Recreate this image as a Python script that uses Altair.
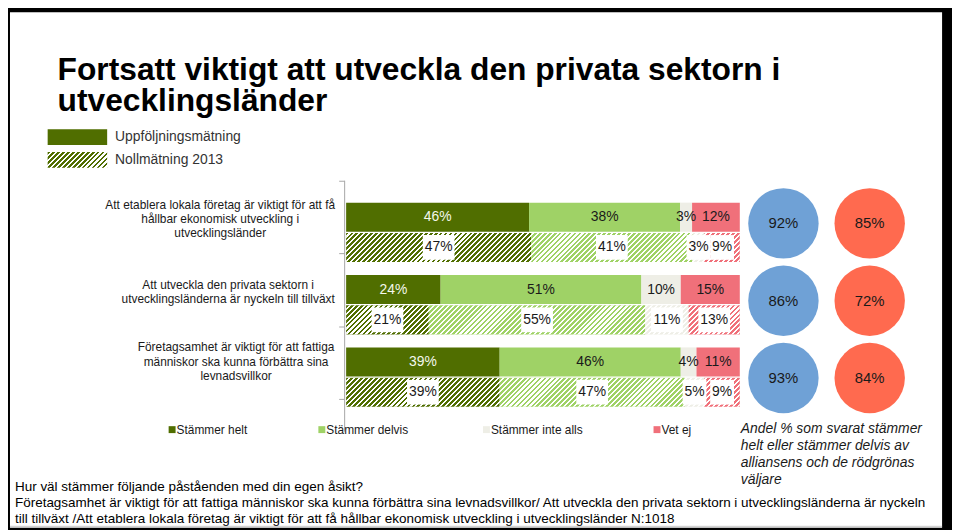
import altair as alt
import pandas as pd

# ---------------- data ----------------
statements = ["Etablera lokala företag", "Privata sektorn", "Företagsamhet"]
statement_labels = [
    "Att etablera lokala företag är viktigt för att få\nhållbar ekonomisk utveckling i\nutvecklingsländer",
    "Att utveckla den privata sektorn i\nutvecklingsländerna är nyckeln till tillväxt",
    "Företagsamhet är viktigt för att fattiga\nmänniskor ska kunna förbättra sina\nlevnadsvillkor",
]
measures = ["Uppföljningsmätning", "Nollmätning 2013"]
categories = ["Stämmer helt", "Stämmer delvis", "Stämmer inte alls", "Vet ej"]
follow_up = [[46, 38, 3, 12], [24, 51, 10, 15], [39, 46, 4, 11]]
baseline_2013 = [[47, 41, 3, 9], [21, 55, 11, 13], [39, 47, 5, 9]]
groups = ["Alliansen", "Rödgröna"]
alliansen = [92, 86, 93]
rodgrona = [85, 72, 84]

title_lines = ["Fortsatt viktigt att utveckla den privata sektorn i", "utvecklingsländer"]
note_text = "Andel % som svarat stämmer\nhelt eller stämmer delvis av\nalliansens och de rödgrönas\nväljare"
footnote_text = ("Hur väl stämmer följande påståenden med din egen åsikt?\n"
                 "Företagsamhet är viktigt för att fattiga människor ska kunna förbättra sina levnadsvillkor/ "
                 "Att utveckla den privata sektorn i utvecklingsländerna är nyckeln\n"
                 "till tillväxt /Att etablera lokala företag är viktigt för att få hållbar ekonomisk "
                 "utveckling i utvecklingsländer N:1018")

# ---------------- styles ----------------
cat_colors = ["#506E00", "#9FD266", "#EEEEE6", "#F0707A"]
group_colors = ["#6FA1D6", "#FF6A4F"]
FONT = "Liberation Sans, Arial, sans-serif"
TXT = "#1a1a1a"

rows = []
for i, s in enumerate(statements):
    for m, vals in ((measures[0], follow_up[i]), (measures[1], baseline_2013[i])):
        for k, c in enumerate(categories):
            rows.append({"statement": s, "measure": m, "category": c, "order": k, "value": vals[k]})
df = pd.DataFrame(rows)

circ_rows = []
for i, s in enumerate(statements):
    circ_rows.append({"statement": s, "group": groups[0], "value": alliansen[i]})
    circ_rows.append({"statement": s, "group": groups[1], "value": rodgrona[i]})
cdf = pd.DataFrame(circ_rows)

one = pd.DataFrame({"_": [0]})

# scales (chart pixel coordinates)
X0, X1 = 341, 738
Y0, Y1 = 187.5, 406.5
PI, PO = 0.18, 0.09
OPI = 0.04
xs = alt.Scale(domain=[0, 1], range=[X0, X1])
ys = alt.Scale(type="band", domain=statements, range=[Y0, Y1], paddingInner=PI, paddingOuter=PO)
yos = alt.Scale(type="band", domain=measures, paddingInner=OPI, paddingOuter=0)

step = (Y1 - Y0) / (len(statements) - PI + 2 * PO)
band = step * (1 - PI)
obw = band / (2 - OPI) * (1 - OPI)


def hatch(W, H, period, frac, on, off):
    L = W + H
    n = int(L / period) + 1
    stops = []
    for i in range(n):
        a = min(i * period / L, 1)
        b = min((i + frac) * period / L, 1)
        c = min((i + 1) * period / L, 1)
        stops += [{"offset": round(a, 5), "color": on}, {"offset": round(b, 5), "color": on},
                  {"offset": round(b, 5), "color": off}, {"offset": round(c, 5), "color": off}]
    r = H / W
    k = (1 + r) / (1 + r * r)
    return {"gradient": "linear", "x1": 0, "y1": 0, "x2": k, "y2": k * r, "stops": stops}


Ypos = alt.Y("statement:N", scale=ys, axis=None)
YOff = alt.YOffset("measure:N", scale=yos)

base = (alt.Chart(df)
        .transform_joinaggregate(total="sum(value)", groupby=["statement", "measure"])
        .transform_window(cum="sum(value)", sort=[alt.SortField("order")],
                          groupby=["statement", "measure"], frame=[None, 0])
        .transform_calculate(x0="(datum.cum - datum.value) / datum.total",
                             x1="datum.cum / datum.total",
                             xm="(datum.cum - datum.value / 2) / datum.total",
                             label="datum.value + '%'"))

background = alt.Chart(one).mark_rect(color="white").encode(
    x=alt.value(2), x2=alt.value(942), y=alt.value(2), y2=alt.value(522))
bottom_line = alt.Chart(one).mark_rule(color="#C8C8C8", strokeWidth=1).encode(
    x=alt.value(2), x2=alt.value(942), y=alt.value(520.5))

bars = base.mark_bar().encode(
    x=alt.X("x0:Q", scale=xs, axis=None),
    x2="x1:Q",
    y=Ypos, yOffset=YOff,
    color=alt.Color("category:N", scale=alt.Scale(domain=categories, range=cat_colors), legend=None),
)

overlay = (alt.Chart(pd.DataFrame({"statement": statements}))
           .transform_calculate(measure=f"'{measures[1]}'", a="0", b="1")
           .mark_rect(fill=hatch(X1 - X0, obw, 5, 0.55, "rgba(255,255,255,0)", "white"), strokeWidth=0)
           .encode(x=alt.X("a:Q", scale=xs, axis=None), x2="b:Q", y=Ypos, yOffset=YOff))

boxes = (base.transform_filter(alt.datum.measure == measures[1])
         .transform_calculate(
             shp="length(datum.label) > 2 ? 'M-1,-0.78H1V0.78H-1Z' : 'M-1,-1.04H1V1.04H-1Z'",
             sz="length(datum.label) > 2 ? 1024 : 576")
         .mark_point(filled=True, color="white", opacity=1, strokeWidth=0)
         .encode(x=alt.X("xm:Q", scale=xs, axis=None), y=Ypos, yOffset=YOff,
                 shape=alt.Shape("shp:N", scale=None), size=alt.Size("sz:Q", scale=None)))

labels = (base.transform_calculate(
              tcol=f"datum.category == '{categories[0]}' && datum.measure == '{measures[0]}' ? '#F4F8EC' : '{TXT}'")
          .mark_text(fontSize=14, font=FONT)
          .encode(x=alt.X("xm:Q", scale=xs, axis=None), y=Ypos, yOffset=YOff,
                  text="label:N", color=alt.Color("tcol:N", scale=None)))

cx = alt.X("group:N", scale=alt.Scale(type="point", domain=groups, range=[782, 869], padding=0), axis=None)
cy = alt.Y("statement:N", scale=alt.Scale(type="point", domain=statements, range=[215, 371], padding=0), axis=None)
circles = alt.Chart(cdf).mark_circle(size=5041, opacity=1).encode(
    x=cx, y=cy,
    color=alt.Color("group:N", scale=alt.Scale(domain=groups, range=group_colors), legend=None))
circle_text = alt.Chart(cdf).transform_calculate(label="datum.value + '%'").mark_text(
    fontSize=15, font=FONT, color=TXT).encode(x=cx, y=cy, text="label:N")

# axis line and ticks
axis_layers = [alt.Chart(one).mark_rule(color="#A6A6A6").encode(
    x=alt.value(339.5), y=alt.value(172), y2=alt.value(425))]
for ty in [172, 245, 319, 392]:
    axis_layers.append(alt.Chart(one).mark_rule(color="#A6A6A6").encode(
        x=alt.value(334), x2=alt.value(339.5), y=alt.value(ty + 0.5)))

# statement labels (y = first line)
stmt_layers = []
for txt, lx, ly in zip(statement_labels, [214, 222, 230], [196, 277, 340]):
    stmt_layers.append(alt.Chart(pd.DataFrame({"t": [txt]})).mark_text(
        fontSize=12, font=FONT, color=TXT, align="center", baseline="middle",
        lineBreak="\n", lineHeight=14.5).encode(x=alt.value(lx), y=alt.value(ly), text="t:N"))

# title
title = alt.Chart(one).mark_text(
    text=title_lines, fontSize=32, fontWeight="bold", font=FONT, color="black",
    align="left", baseline="alphabetic", lineHeight=31.5).encode(x=alt.value(50), y=alt.value(70))

# top legend
top_legend = [
    alt.Chart(one).mark_rect(color=cat_colors[0]).encode(
        x=alt.value(40), x2=alt.value(100), y=alt.value(120), y2=alt.value(136)),
    alt.Chart(one).mark_rect(fill=hatch(60, 16, 5, 0.55, cat_colors[0], "white"), strokeWidth=0).encode(
        x=alt.value(40), x2=alt.value(100), y=alt.value(143), y2=alt.value(159)),
]
for txt, ly in zip(measures, [128, 151]):
    top_legend.append(alt.Chart(pd.DataFrame({"t": [txt]})).mark_text(
        fontSize=14, font=FONT, color="#333333", align="left", baseline="middle").encode(
        x=alt.value(108), y=alt.value(ly), text="t:N"))

# bottom legend
bottom_legend = []
for cat, col, tx in zip(categories, cat_colors, [170, 321, 487, 659]):
    bottom_legend.append(alt.Chart(one).mark_rect(color=col).encode(
        x=alt.value(tx - 8), x2=alt.value(tx - 1), y=alt.value(419.5), y2=alt.value(426.5)))
    bottom_legend.append(alt.Chart(pd.DataFrame({"t": [cat]})).mark_text(
        fontSize=12, font=FONT, color=TXT, align="left", baseline="middle").encode(
        x=alt.value(tx), y=alt.value(423), text="t:N"))

note = alt.Chart(pd.DataFrame({"t": [note_text]})).mark_text(
    fontSize=14, font=FONT, fontStyle="italic", color=TXT, align="left", baseline="middle",
    lineBreak="\n", lineHeight=17.3).encode(x=alt.value(739), y=alt.value(422), text="t:N")

footnote = alt.Chart(pd.DataFrame({"t": [footnote_text]})).mark_text(
    fontSize=13.6, font=FONT, color="black", align="left", baseline="middle",
    lineBreak="\n", lineHeight=16).encode(x=alt.value(7), y=alt.value(481), text="t:N")

chart = (alt.layer(background, bottom_line, *axis_layers, bars, overlay, boxes, labels,
                   circles, circle_text, *stmt_layers, title, *top_legend, *bottom_legend,
                   note, footnote)
         .resolve_scale(x="independent", y="independent", color="independent")
         .properties(width=952, height=522, autosize=alt.AutoSizeParams(type="none"),
                     padding=0, background="black")
         .configure_view(stroke=None))

chart.save("out.html", embed_options={"renderer": "svg", "actions": False})
